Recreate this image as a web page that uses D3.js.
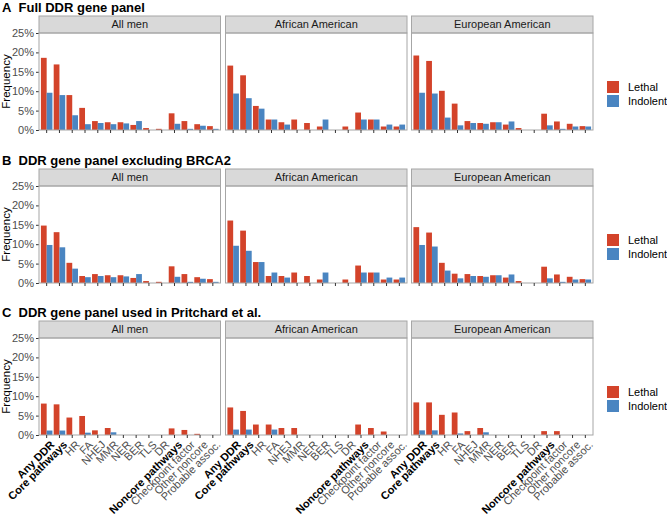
<!DOCTYPE html>
<html><head><meta charset="utf-8">
<script src="https://cdn.jsdelivr.net/npm/d3@7"></script>
<style>body{margin:0;background:#fff;} svg{display:block;font-family:"Liberation Sans",Arial,Helvetica,sans-serif;}</style>
</head><body><svg id="c" width="667" height="517"></svg>
<script>
const categories = ["Any DDR","Core pathways","HR","FA","NHEJ","MMR","NER","BER","TLS","DR","Noncore pathways","Checkpoint factor","Other noncore","Probable assoc."];
const boldCategories = ["Any DDR","Core pathways","Noncore pathways"];
const groups = ["All men","African American","European American"];
const seriesNames = ["Lethal","Indolent"];
const seriesColors = ["#D3432A","#4A85C1"];
const panelTags = ["A","B","C"];
const panelTitles = ["Full DDR gene panel","DDR gene panel excluding BRCA2","DDR gene panel used in Pritchard et al."];
const yTicks = [0,5,10,15,20,25];

// values in percent
const fullAllLethal   = [18.6,16.9,9.0,5.7,2.3,2.0,2.0,1.3,0.5,0.3,4.3,2.3,1.5,1.0];
const fullAllIndolent = [9.6,9.0,3.8,1.5,1.8,1.5,1.7,2.3,0,0,1.6,0.3,1.1,0.3];
const fullAfrLethal   = [16.6,14.1,6.2,2.7,2.0,2.7,1.8,0.9,0,0.9,4.5,2.7,0.9,0.9];
const fullAfrIndolent = [9.4,8.2,5.5,2.7,1.4,0,0,2.7,0,0,2.7,2.7,1.4,1.4];
const fullEurLethal   = [19.2,17.8,10.1,6.8,2.3,1.8,2.0,1.4,0.5,0,4.2,2.2,1.6,1.0];
const fullEurIndolent = [9.6,9.4,3.2,1.2,1.8,1.6,2.0,2.2,0,0,1.2,0.3,0.9,0.9];

const exclAllLethal   = [14.8,13.1,5.2,1.8,2.3,2.0,2.0,1.3,0.5,0.3,4.3,2.3,1.5,1.0];
const exclAllIndolent = [9.8,9.2,3.7,1.5,1.8,1.5,1.7,2.3,0,0,1.6,0.3,1.1,0.3];
const exclAfrLethal   = [16.1,13.5,5.4,1.8,1.8,2.7,1.8,0.9,0,0.9,4.5,2.7,0.9,0.9];
const exclAfrIndolent = [9.6,8.3,5.4,2.7,1.4,0,0,2.7,0,0,2.7,2.7,1.4,1.4];
const exclEurLethal   = [14.4,13.0,5.2,2.4,2.3,1.8,2.0,1.4,0.5,0,4.2,2.2,1.6,1.0];
const exclEurIndolent = [9.8,9.4,3.2,1.2,1.8,1.6,2.0,2.2,0,0,1.2,0.3,0.9,0.9];

const pritAllLethal   = [8.1,7.9,4.5,4.9,1.2,1.8,0,0,0,0,1.7,1.3,0.3,0];
const pritAllIndolent = [1.15,1.15,0,0.6,0,0.7,0,0,0,0,0,0,0,0];
const pritAfrLethal   = [7.1,6.2,2.7,2.7,1.8,1.8,0,0,0,0,2.7,1.8,0.9,0];
const pritAfrIndolent = [1.4,1.4,0,1.4,0,0,0,0,0,0,0,0,0,0];
const pritEurLethal   = [8.4,8.4,5.2,5.8,1.0,1.8,0,0,0,0,1.0,1.0,0,0];
const pritEurIndolent = [1.2,1.2,0,0.4,0,0.7,0,0,0,0,0,0,0,0];

const rowsData = [
  [[fullAllLethal,fullAllIndolent],[fullAfrLethal,fullAfrIndolent],[fullEurLethal,fullEurIndolent]],
  [[exclAllLethal,exclAllIndolent],[exclAfrLethal,exclAfrIndolent],[exclEurLethal,exclEurIndolent]],
  [[pritAllLethal,pritAllIndolent],[pritAfrLethal,pritAfrIndolent],[pritEurLethal,pritEurIndolent]]
];

// layout
const rowTops = [16, 169, 321];   // strip tops
const stripH = 17;
const plotH = 97;
const facetX = [39, 225.5, 411.5];
const facetW = 181.5;

const svg = d3.select("#c");

// ggplot-like discrete positions: 1..n within [0.4, n+0.6]
const x = d3.scaleLinear().domain([0.4, categories.length + 0.6]).range([0, facetW]);
const unit = x(2) - x(1);
const xc = i => x(i + 1);
const barW = unit * 0.45;

rowsData.forEach((row, r) => {
  const top = rowTops[r];
  const pTop = top + stripH;
  const y = d3.scaleLinear().domain([0, 25]).range([pTop + plotH, pTop]);

  // title
  svg.append("text").attr("x", 2).attr("y", top - 4.5).attr("font-size", 13).attr("font-weight", "bold").attr("fill", "#000").text(panelTags[r]);
  svg.append("text").attr("x", 18.5).attr("y", top - 4.5).attr("font-size", 13).attr("font-weight", "bold").attr("fill", "#000").text(panelTitles[r]);

  // y axis title
  svg.append("text").attr("transform", `translate(10,${pTop + plotH/2}) rotate(-90)`)
    .attr("text-anchor", "middle").attr("font-size", 11.5).attr("fill", "#000").text("Frequency");

  // y axis
  const yAxis = svg.append("g").attr("transform", `translate(${facetX[0]},0)`)
    .call(d3.axisLeft(y).tickValues(yTicks).tickFormat(d => d + "%").tickSize(3).tickPadding(2));
  yAxis.select(".domain").remove();
  yAxis.selectAll("line").attr("stroke", "#333");
  yAxis.selectAll("text").attr("font-size", 11).attr("fill", "#4D4D4D").attr("font-family", null);

  groups.forEach((g, gi) => {
    const fx = facetX[gi];
    const fg = svg.append("g").attr("transform", `translate(${fx},0)`);
    // strip
    fg.append("rect").attr("x", 0).attr("y", top).attr("width", facetW).attr("height", stripH)
      .attr("fill", "#D9D9D9").attr("stroke", "#A6A6A6").attr("stroke-width", 1);
    fg.append("text").attr("x", facetW/2).attr("y", top + stripH/2).attr("dy", "0.36em")
      .attr("text-anchor", "middle").attr("font-size", 11).attr("fill", "#1A1A1A").text(g);

    // bars
    row[gi].forEach((vals, si) => {
      fg.selectAll(null).data(vals).enter().append("rect")
        .attr("x", (d, i) => xc(i) - barW + si * barW)
        .attr("y", d => y(d))
        .attr("width", barW)
        .attr("height", d => y(0) - y(d))
        .attr("fill", seriesColors[si]);
    });

    // panel border
    fg.append("rect").attr("x", 0).attr("y", pTop).attr("width", facetW).attr("height", plotH)
      .attr("fill", "none").attr("stroke", "#A6A6A6").attr("stroke-width", 1);

    // x ticks
    fg.selectAll(null).data(categories).enter().append("line")
      .attr("x1", (d, i) => xc(i)).attr("x2", (d, i) => xc(i))
      .attr("y1", pTop + plotH).attr("y2", pTop + plotH + 3)
      .attr("stroke", "#333").attr("stroke-width", 1);

    if (r === 2) {
      fg.selectAll(null).data(categories).enter().append("text")
        .attr("transform", (d, i) => `translate(${xc(i) + 3},${pTop + plotH + 5}) rotate(-45)`)
        .attr("text-anchor", "end").attr("dy", "0.7em")
        .attr("font-size", 11)
        .attr("font-weight", d => boldCategories.includes(d) ? "bold" : "normal")
        .attr("fill", d => boldCategories.includes(d) ? "#000" : "#4D4D4D")
        .text(d => d);
    }
  });

  // legend
  const lg = svg.append("g");
  seriesNames.forEach((s, si) => {
    const ky = pTop + 48 + si * 14;
    lg.append("rect").attr("x", 607).attr("y", ky).attr("width", 12).attr("height", 12).attr("fill", seriesColors[si]);
    lg.append("text").attr("x", 628).attr("y", ky + 6).attr("dy", "0.36em").attr("font-size", 11).attr("fill", "#000").text(s);
  });
});
</script>
</body></html>
